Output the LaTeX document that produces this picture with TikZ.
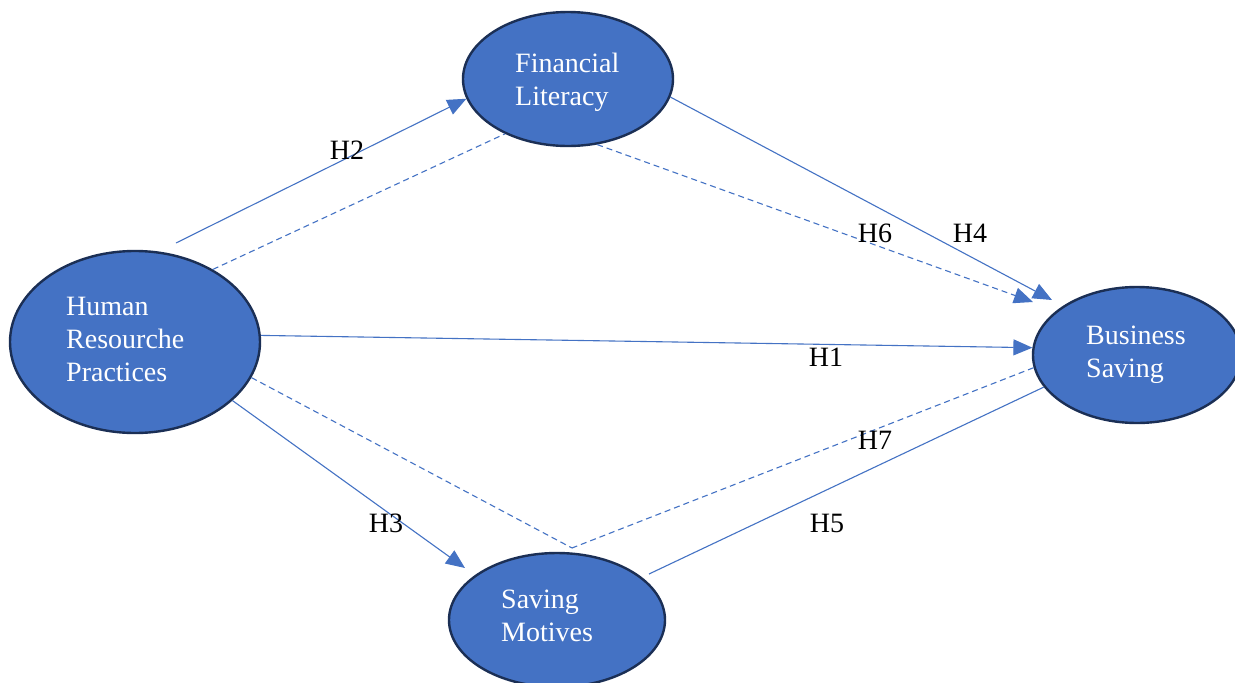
\documentclass[tikz,border=0pt]{standalone}
\usepackage{fontspec}
\setmainfont{Liberation Serif}
\usetikzlibrary{shapes.geometric,arrows.meta}
\definecolor{fillblue}{HTML}{4472C4}
\definecolor{edgeblue}{HTML}{1B2F55}
\definecolor{lineblue}{HTML}{4472C4}
\begin{document}
\begin{tikzpicture}[x=1pt,y=-1pt,
  construct/.style={ellipse, draw=edgeblue, line width=2.4pt, fill=fillblue, inner sep=0pt},
  ctext/.style={text=white, font=\fontsize{28}{33}\selectfont, align=left, inner sep=0pt, anchor=west},
  link/.style={draw=lineblue, line width=1.1pt},
  arr/.style={-{Triangle[length=19pt,width=16pt]}},
  dashlink/.style={dash pattern=on 6pt off 4pt},
  hyp/.style={font=\fontsize{28}{33}\selectfont, text=black, inner sep=0pt}
]
\useasboundingbox (0,0) rectangle (1235,683);
\clip (0,0) rectangle (1235,683);
\fill[white] (0,0) rectangle (1235,683);

\node[construct, minimum width=250pt, minimum height=182pt] (hrp) at (135,342) {};
\node[construct, minimum width=210pt, minimum height=134pt] (fl) at (568,79) {};
\node[construct, minimum width=208pt, minimum height=136pt] (bs) at (1137,355) {};
\node[construct, minimum width=216pt, minimum height=134pt] (sm) at (557,620) {};

\node[ctext] (hrpt) at (66,339) {Human\\Resourche\\Practices};
\node[ctext] (flt) at (515,82) {Financial\\Literacy};
\node[ctext] (bst) at (1086,355) {Business\\Saving};
\node[ctext] (smt) at (501,616) {Saving\\Motives};

\coordinate (h2s) at (176,243);
\coordinate (h4e) at (1052,300);
\coordinate (h6e) at (1033,302);
\coordinate (meet) at (572,548);
\coordinate (h3e) at (465,568);
\coordinate (h5e) at (649,574);

\draw[link,arr] (h2s) -- (fl.191);
\draw[link,dashlink] (hrp.43) -- (fl.221);
\draw[link,arr] (fl.-10) -- (h4e);
\draw[link,dashlink,arr] (fl.-66) -- (h6e);
\draw[link,arr] (hrp.3) -- (bs.176);
\draw[link,dashlink] (bs.187) -- (meet);
\draw[link,dashlink] (hrp.-17) -- (meet);
\draw[link,arr] (hrp.-31) -- (h3e);
\draw[link] (bs.199) -- (h5e);

\node[hyp] (l1) at (826,357) {H1};
\node[hyp] (l2) at (347,150) {H2};
\node[hyp] (l3) at (386,523) {H3};
\node[hyp] (l4) at (970,233) {H4};
\node[hyp] (l5) at (827,523) {H5};
\node[hyp] (l6) at (875,233) {H6};
\node[hyp] (l7) at (875,440) {H7};
\end{tikzpicture}
\end{document}
